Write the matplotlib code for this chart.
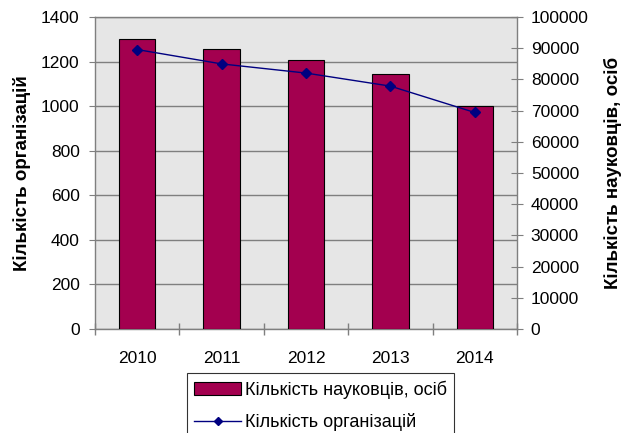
import matplotlib.pyplot as plt
import numpy as np

plt.rcParams['font.family'] = ['Liberation Sans', 'DejaVu Sans']

# ----------------------
# дані
# ----------------------
years = ["2010", "2011", "2012", "2013", "2014"]
bar_values = [1303, 1255, 1208, 1143, 999]          # ліва вісь
line_values = [89564, 84969, 82032, 77853, 69404]   # права вісь
bar_label = "Кількість науковців, осіб"
line_label = "Кількість організацій"
left_ylabel = "Кількість організацій"
right_ylabel = "Кількість науковців, осіб"

bar_color = "#A3004F"
line_color = "#000080"
grid_color = "#7F7F7F"

fig = plt.figure(figsize=(6.28, 4.33), dpi=100)
ax = fig.add_axes([0.1513, 0.2402, 0.6719, 0.7205])
ax.set_facecolor("#E6E6E6")

x = np.arange(len(years))
bars = ax.bar(x, bar_values, width=0.43, color=bar_color, edgecolor="black",
              linewidth=0.8, zorder=3, label=bar_label)

ax.set_xlim(-0.5, len(years) - 0.5)
ax.set_ylim(0, 1400)
ax.set_yticks(np.arange(0, 1401, 200))
ax.yaxis.grid(True, color=grid_color, linewidth=1.0, zorder=0)
ax.set_axisbelow(True)
ax.set_xticks(x)
ax.set_xticklabels(years)
ax.set_xticks(np.arange(-0.5, len(years), 1.0), minor=True)
ax.tick_params(axis="x", which="major", length=0, pad=16, labelsize=12.5)
ax.tick_params(axis="x", which="minor", direction="inout", length=8,
               color=grid_color, width=1)
ax.tick_params(axis="y", direction="out", length=4, color=grid_color,
               pad=7, labelsize=12.5)
for s in ax.spines.values():
    s.set_color(grid_color)
    s.set_linewidth(1.0)
ax.set_ylabel(left_ylabel, fontsize=13.5, fontweight="bold", labelpad=7)

ax2 = ax.twinx()
line, = ax2.plot(x, line_values, color=line_color, linewidth=1.0, marker="D",
                 markersize=5, label=line_label, zorder=4)
ax2.set_ylim(0, 100000)
ax2.set_yticks(np.arange(0, 100001, 10000))
ax2.tick_params(axis="y", direction="inout", length=8, color=grid_color,
                pad=6, labelsize=12.5)
for s in ax2.spines.values():
    s.set_visible(False)
ax2.set_ylabel(right_ylabel, fontsize=13.5, fontweight="bold", labelpad=11)

leg = fig.legend([bars, line], [bar_label, line_label], loc="upper left",
                 bbox_to_anchor=(187 / 628, 1 - 373 / 433), fontsize=13,
                 frameon=True, fancybox=False, edgecolor="black",
                 handlelength=2.6, handletextpad=0.2, labelspacing=0.8,
                 borderpad=0.4, borderaxespad=0, markerscale=0.8)
leg.get_frame().set_linewidth(0.8)

plt.savefig("out.png", dpi=100)
